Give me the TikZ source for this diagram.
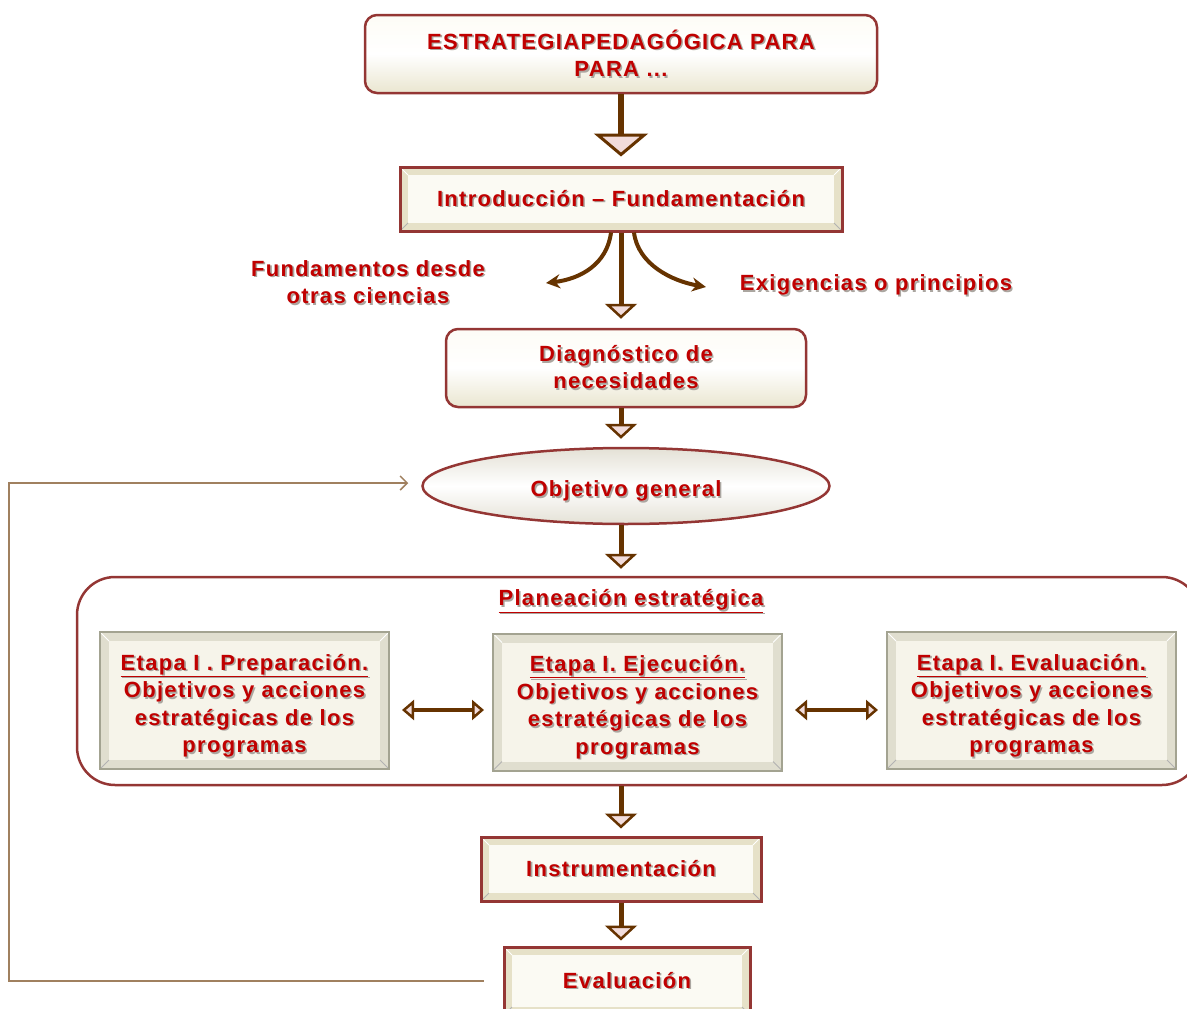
\documentclass[tikz,border=0pt]{standalone}
\usepackage{fontspec}
\setmainfont{Liberation Sans}[LetterSpace=6]
\usetikzlibrary{arrows.meta,shapes.geometric}
\definecolor{txtred}{HTML}{C00000}
\definecolor{boxred}{HTML}{943634}
\definecolor{brownarr}{HTML}{663300}
\definecolor{headfill}{HTML}{F2DCDB}
\definecolor{band}{HTML}{E6E1C8}
\definecolor{innerc}{HTML}{FBFAF3}
\definecolor{shgray}{HTML}{ABA6A0}
\definecolor{fbline}{HTML}{A0805F}
\definecolor{etborder}{HTML}{A3A391}
\definecolor{etband}{HTML}{E0DECF}
\definecolor{etinner}{HTML}{F6F4EA}
\definecolor{roundtop}{HTML}{FDFCF6}
\definecolor{roundbot}{HTML}{EAE6D0}
\definecolor{elledge}{HTML}{E4E1D6}
\newcommand{\sht}[1]{\leavevmode\rlap{\raisebox{-1.6pt}{\kern1.6pt\textcolor{shgray}{#1}}}#1}
\newcommand{\lowr}{\rule{0pt}{28pt}}
\begin{document}
\begin{tikzpicture}[x=1pt,y=-1pt,
  txt/.style={text=txtred, font=\bfseries\fontsize{22}{27.5}\selectfont, align=center, inner sep=0pt},
  roundbox/.style={txt, rectangle, rounded corners=12pt, draw=boxred, line width=2.5pt,
    top color=roundtop, bottom color=roundbot, middle color=white},
  bevelbox/.style={txt, rectangle, draw=boxred, line width=3pt, fill=band,
    path picture={
      \fill[innerc] ([xshift=8pt,yshift=-8pt]path picture bounding box.north west) rectangle ([xshift=-8pt,yshift=8pt]path picture bounding box.south east);
      \draw[white, line width=0.8pt] (path picture bounding box.north west) -- ([xshift=8pt,yshift=-8pt]path picture bounding box.north west);
      \draw[white, line width=0.8pt] (path picture bounding box.north east) -- ([xshift=-8pt,yshift=-8pt]path picture bounding box.north east);
      \draw[gray!60, line width=0.8pt] (path picture bounding box.south west) -- ([xshift=8pt,yshift=8pt]path picture bounding box.south west);
      \draw[gray!60, line width=0.8pt] (path picture bounding box.south east) -- ([xshift=-8pt,yshift=8pt]path picture bounding box.south east);
    }},
  etapabox/.style={txt, rectangle, draw=etborder, line width=2pt, fill=etband,
    minimum width=289pt, minimum height=137pt,
    path picture={
      \fill[etinner] ([xshift=9pt,yshift=-9pt]path picture bounding box.north west) rectangle ([xshift=-9pt,yshift=9pt]path picture bounding box.south east);
      \draw[white, line width=0.8pt] (path picture bounding box.north west) -- ([xshift=9pt,yshift=-9pt]path picture bounding box.north west);
      \draw[white, line width=0.8pt] (path picture bounding box.north east) -- ([xshift=-9pt,yshift=-9pt]path picture bounding box.north east);
      \draw[gray!60, line width=0.8pt] (path picture bounding box.south west) -- ([xshift=9pt,yshift=9pt]path picture bounding box.south west);
      \draw[gray!60, line width=0.8pt] (path picture bounding box.south east) -- ([xshift=-9pt,yshift=9pt]path picture bounding box.south east);
    }},
  bigarrow/.style={draw=brownarr, line width=6pt, -{Triangle[length=23pt, width=54pt, line width=3pt, fill=headfill]}},
  smallarrow/.style={draw=brownarr, line width=5pt, -{Triangle[length=15pt, width=32pt, line width=2.5pt, fill=headfill]}},
  curvearrow/.style={draw=brownarr, line width=4pt, -{Stealth[length=14pt, width=14pt]}},
  dblarrow/.style={draw=brownarr, line width=4pt,
    {Triangle[length=12pt, width=20pt, line width=2.5pt, fill=headfill]}-{Triangle[length=12pt, width=20pt, line width=2.5pt, fill=headfill]}},
  fbarrow/.style={draw=fbline, line width=1.5pt, -{Straight Barb[length=7pt, width=14pt]}}
]
\useasboundingbox (0,0) rectangle (1187,1009);
\clip (0,0) rectangle (1187,1009);

% nodes
\node[roundbox, minimum width=512pt, minimum height=78pt] (top) at (621,54)
  {\sht{ESTRATEGIAPEDAGÓGICA PARA}\\\sht{PARA ...}};
\node[bevelbox, minimum width=442pt, minimum height=64pt] (intro) at (621,199)
  {\sht{Introducción – Fundamentación}};
\node[txt] (fund) at (368,283) {\sht{Fundamentos desde}\\\sht{otras ciencias}};
\node[txt] (exig) at (876,286) {\sht{Exigencias o principios}};
\node[roundbox, minimum width=360pt, minimum height=78pt] (diag) at (626,368)
  {\sht{Diagnóstico de}\\\sht{necesidades}};
\node[txt, ellipse, draw=boxred, line width=2.5pt, minimum width=407pt, minimum height=76pt,
  top color=elledge, bottom color=elledge, middle color=white] (obj) at (626,486) {\lowr\sht{Objetivo general}};
\node[rectangle, rounded corners=38pt, draw=boxred, line width=2.5pt, fill=white,
  minimum width=1123pt, minimum height=208pt] (plan) at (638.5,681) {};
\node[txt] (ptitle) at (631,602) {\sht{\underline{Planeación estratégica}}};
\node[etapabox] (e1) at (244.5,700.5)
  {\lowr\sht{\underline{Etapa I . Preparación.}}\\\sht{Objetivos y acciones}\\\sht{estratégicas de los}\\\sht{programas}};
\node[etapabox] (e2) at (637.5,702)
  {\lowr\sht{\underline{Etapa I. Ejecución.}}\\\sht{Objetivos y acciones}\\\sht{estratégicas de los}\\\sht{programas}};
\node[etapabox] (e3) at (1031.5,700.5)
  {\lowr\sht{\underline{Etapa I. Evaluación.}}\\\sht{Objetivos y acciones}\\\sht{estratégicas de los}\\\sht{programas}};
\node[bevelbox, minimum width=280pt, minimum height=64pt] (instr) at (621,869)
  {\sht{Instrumentación}};
\node[bevelbox, minimum width=246pt, minimum height=68pt] (eval) at (627,981)
  {\sht{Evaluación}};

\coordinate (fl) at (546,283);
\coordinate (fr) at (706,287);
\coordinate (cl) at (9,980);

% connectors
\draw[bigarrow, shorten >=9pt] (top.south) -- (intro.north);
\draw[smallarrow, shorten >=9pt] (intro.south) -- (intro.south |- diag.north);
\draw[curvearrow] ([xshift=-10pt]intro.south) .. controls +(-4,32) and +(34,-4) .. (fl);
\draw[curvearrow] ([xshift=13pt]intro.south) .. controls +(4,32) and +(-34,-6) .. (fr);
\draw[smallarrow, shorten >=8pt] (intro.south |- diag.south) -- (intro.south |- obj.north);
\draw[smallarrow, shorten >=7pt] (intro.south |- obj.south) -- (intro.south |- plan.north);
\draw[dblarrow, shorten <=12pt, shorten >=8pt] ([yshift=-9.5pt]e1.east) -- ([yshift=-9.5pt]e1.east -| e2.west);
\draw[dblarrow, shorten <=12pt, shorten >=8pt] ([yshift=-9.5pt]e3.west -| e2.east) -- ([yshift=-9.5pt]e3.west);
\draw[smallarrow, shorten >=7pt] (intro.south |- plan.south) -- (instr.north);
\draw[smallarrow, shorten >=5pt] (instr.south) -- (instr.south |- eval.north);
\draw[fbarrow, shorten <=19pt, shorten >=13pt] (eval.west) -- (eval.west -| cl) -- (cl |- 0,483) -- (obj.west |- 0,483);
\end{tikzpicture}
\end{document}
